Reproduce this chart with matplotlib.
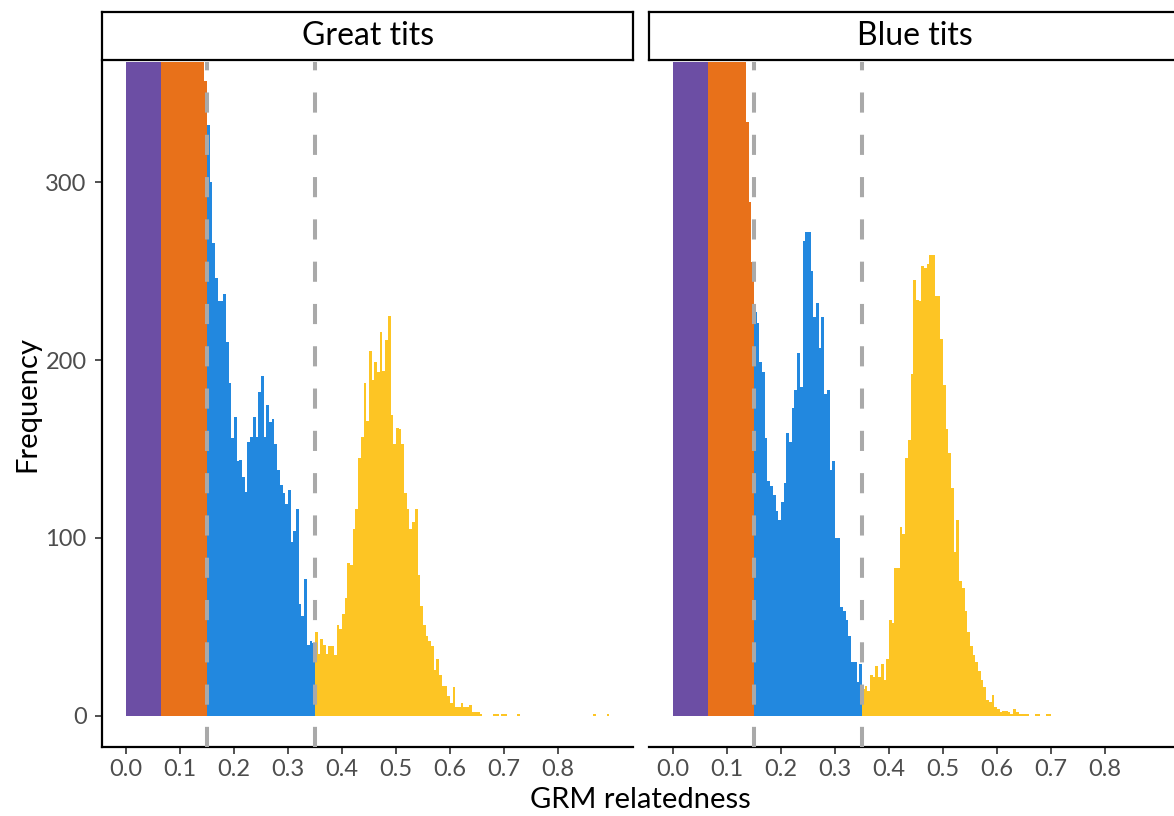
import numpy as np
import matplotlib
matplotlib.use("Agg")
import matplotlib.pyplot as plt

plt.rcParams['font.family'] = ['Lato', 'DejaVu Sans']

# ---------------- data ----------------
BIN = 0.005
species = ["Great tits", "Blue tits"]
cat_starts = [0.0, 0.065, 0.15, 0.35]          # first bin edge of each relatedness class
cat_colors = ["#6C4EA4", "#E8711A", "#2288DF", "#FDC524"]
thresholds = [0.15, 0.35]
x_ticks = [0.0, 0.1, 0.2, 0.3, 0.4, 0.5, 0.6, 0.7, 0.8]
x_ticklabels = ["0.0", "0.1", "0.2", "0.3", "0.4", "0.5", "0.6", "0.7", "0.8"]
y_ticks = [0, 100, 200, 300]
y_ticklabels = ["0", "100", "200", "300"]

# Great tits (counts per 0.005 bin)
great_purple = [5200, 5400, 5600, 5500, 5300, 4900, 4400, 3900, 3300, 2800, 2300, 1900, 1500]
great_orange = [1250, 1050, 900, 780, 680, 600, 540, 500, 470, 450, 430, 410, 400,
                390, 380, 370, 357]
great_blue = [332, 300, 266, 246, 233, 233, 237, 210, 187, 156,
              168, 143, 144, 134, 126, 154, 157, 168, 157, 182,
              191, 157, 175, 165, 167, 153, 138, 130, 125, 119,
              127, 98, 104, 116, 63, 56, 77, 40, 42, 41]
great_yellow = [47, 35, 43, 40, 35, 39, 39, 34, 51, 49,
                57, 66, 86, 85, 105, 116, 145, 157, 187, 166,
                205, 189, 199, 193, 216, 194, 211, 225, 169, 153,
                162, 161, 153, 125, 116, 105, 109, 116, 79, 62,
                51, 45, 42, 39, 26, 32, 23, 17, 17, 11,
                7, 16, 5, 5, 7, 5, 5, 6, 2, 2,
                2, 1, 0, 0, 0, 0, 1, 1, 0, 1,
                1, 0, 0, 0, 0, 1, 0, 0, 0, 0,
                0, 0, 0, 0, 0, 0, 0, 0, 0, 0,
                0, 0, 0, 0, 0, 0, 0, 0, 0, 0,
                0, 0, 0, 1, 0, 0, 0, 0, 1]

# Blue tits
blue_purple = [5000, 5200, 5300, 5200, 5000, 4600, 4100, 3600, 3100, 2600, 2100, 1700, 1400]
blue_orange = [1150, 980, 850, 740, 650, 580, 520, 480, 450, 430, 410, 395, 385,
               372, 334, 289, 255]
blue_blue = [227, 221, 199, 193, 156, 132, 129, 124, 115, 110,
             120, 131, 159, 154, 173, 183, 204, 185, 267, 272,
             272, 250, 224, 232, 207, 224, 181, 183, 138, 143,
             100, 100, 61, 59, 54, 45, 30, 30, 19, 29]
blue_yellow = [15, 17, 14, 23, 22, 28, 22, 29, 20, 32,
               54, 52, 83, 83, 106, 102, 145, 155, 192, 245,
               234, 233, 253, 252, 254, 259, 259, 236, 236, 212,
               186, 161, 148, 128, 92, 110, 76, 72, 59, 47,
               39, 34, 30, 25, 20, 16, 9, 8, 12, 5,
               4, 2, 3, 3, 2, 1, 4, 2, 1, 1,
               1, 1, 0, 0, 1, 1, 0, 0, 1, 1]

panels = [
    (species[0], [great_purple, great_orange, great_blue, great_yellow]),
    (species[1], [blue_purple, blue_orange, blue_blue, blue_yellow]),
]

# ---------------- layout ----------------
W, H = 1174, 816
fig = plt.figure(figsize=(W / 100, H / 100), dpi=100)

x0_px = 101.8          # left edge of first panel
panel_w = 531.6
panel_gap = 547.0      # offset between panels
top_px, bot_px = 62, 747
strip_top, strip_bot = 12, 60

xlim = (-0.04475, 0.93975)
ylim = (-17.5, 367.5)

tick_col = "#4D4D4D"
for k, (name, series) in enumerate(panels):
    left = x0_px + k * panel_gap
    ax = fig.add_axes([left / W, (H - bot_px) / H, panel_w / W, (bot_px - top_px) / H])
    for start, vals, col in zip(cat_starts, series, cat_colors):
        edges = start + BIN * np.arange(len(vals) + 1)
        ax.stairs(vals, edges, fill=True, color=col, linewidth=0, antialiased=False)
    for t in thresholds:
        ax.axvline(t, color="#A9A9A9", linewidth=2.9, linestyle=(0, (5, 5.5)), zorder=3)
    ax.set_xlim(*xlim)
    ax.set_ylim(*ylim)
    ax.set_xticks(x_ticks)
    ax.set_xticklabels(x_ticklabels)
    ax.tick_params(axis='x', length=5, width=1.2, color="#333333", labelsize=17,
                   labelcolor=tick_col, pad=4)
    for s in ["top", "right"]:
        ax.spines[s].set_visible(False)
    ax.spines["bottom"].set_linewidth(1.6)
    if k == 0:
        ax.set_yticks(y_ticks)
        ax.set_yticklabels(y_ticklabels)
        ax.tick_params(axis='y', length=5, width=1.2, color="#333333", labelsize=17,
                       labelcolor=tick_col, pad=6)
        ax.spines["left"].set_linewidth(1.6)
    else:
        ax.spines["left"].set_visible(False)
        ax.set_yticks([])

    # strip
    sax = fig.add_axes([left / W, (H - strip_bot) / H, panel_w / W, (strip_bot - strip_top) / H])
    sax.set_xticks([])
    sax.set_yticks([])
    for s in sax.spines.values():
        s.set_linewidth(1.6)
        s.set_color("black")
    sax.text(0.5, 0.5, name, ha="center", va="center", fontsize=23, color="black",
             transform=sax.transAxes)

fig.text(27 / W, (H - (top_px + bot_px) / 2) / H, "Frequency", rotation=90,
         ha="center", va="center", fontsize=21, color="black")
fig.text(640 / W, (H - 800) / H, "GRM relatedness", ha="center", va="center",
         fontsize=21, color="black")

fig.savefig("out.png", dpi=100)
